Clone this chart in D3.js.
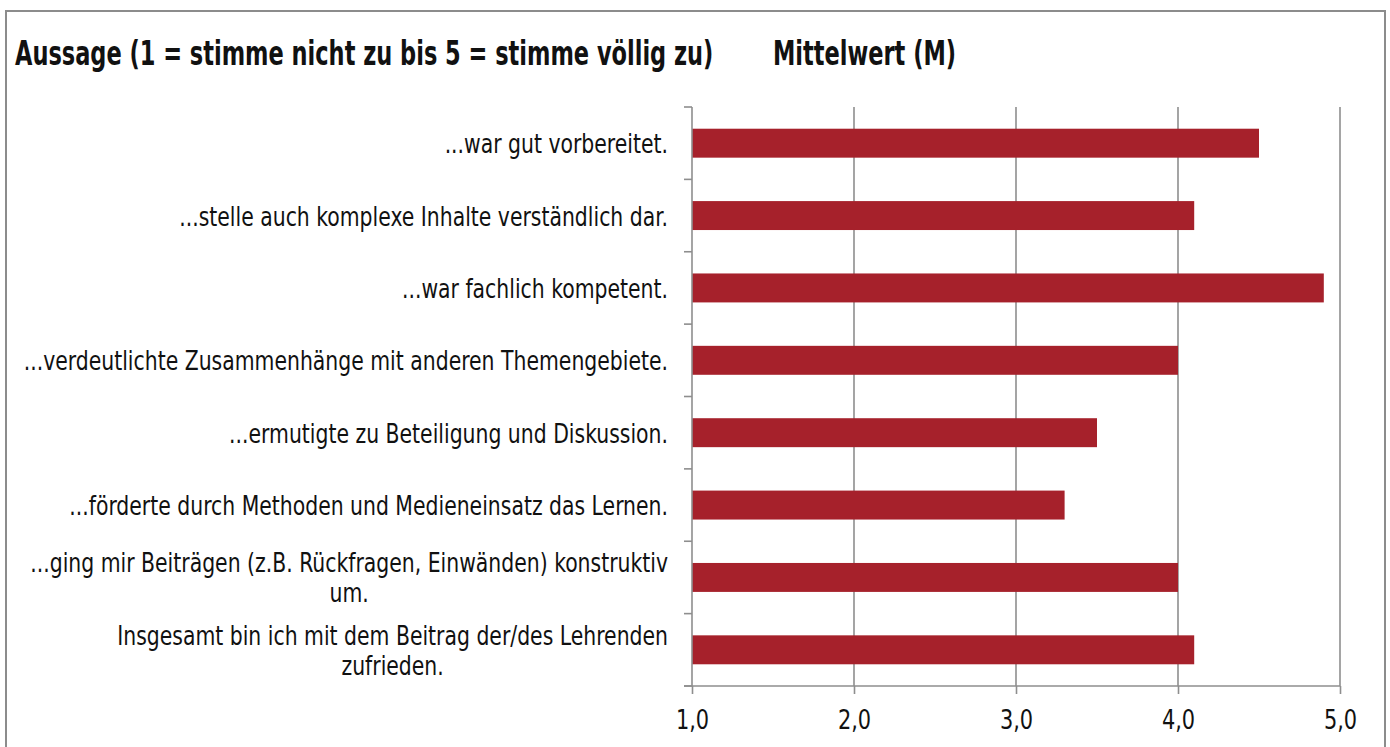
<!DOCTYPE html>
<html>
<head>
<meta charset="utf-8">
<script src="https://cdn.jsdelivr.net/npm/d3@7"></script>
<style>
  body { margin: 0; background: #fff; }
  text { font-family: "Liberation Sans Narrow", "DejaVu Sans Condensed", "Arial Narrow", sans-serif; fill: #111; }
</style>
</head>
<body>
<div id="chart"></div>
<script>
// data
const categories = [
  "...war gut vorbereitet.",
  "...stelle auch komplexe Inhalte verständlich dar.",
  "...war fachlich kompetent.",
  "...verdeutlichte Zusammenhänge mit anderen Themengebiete.",
  "...ermutigte zu Beteiligung und Diskussion.",
  "...förderte durch Methoden und Medieneinsatz das Lernen.",
  "...ging mir Beiträgen (z.B. Rückfragen, Einwänden) konstruktiv\num.",
  "Insgesamt bin ich mit dem Beitrag der/des Lehrenden\nzufrieden."
];
const values = [4.5, 4.1, 4.9, 4.0, 3.5, 3.3, 4.0, 4.1];
const tickValues = [1, 2, 3, 4, 5];
const tickLabels = ["1,0", "2,0", "3,0", "4,0", "5,0"];
const titleLeft = "Aussage (1 = stimme nicht zu bis 5 = stimme völlig zu)";
const titleRight = "Mittelwert (M)";

(function () {
  const width = 1390, height = 747;
  const plot = { left: 692, right: 1340, top: 107, bottom: 686 };
  const gridColor = "#8e8e8e";
  const barColor = "#a6212b";
  // the original font is a narrow gothic; squeeze the condensed fallback to match
  const titleSqueeze = 0.735, labelSqueeze = 0.84, tickSqueeze = 0.86;

  const svg = d3.select("#chart")
    .append("svg")
    .attr("width", width)
    .attr("height", height);

  // outer frame
  svg.append("rect")
    .attr("x", 6).attr("y", 11)
    .attr("width", 1379).attr("height", 760)
    .attr("fill", "none")
    .attr("stroke", "#8c8c8c")
    .attr("stroke-width", 2);

  // titles
  [[titleLeft, 15], [titleRight, 773]].forEach(([txt, tx]) => {
    svg.append("g")
      .attr("transform", `translate(${tx},65) scale(${titleSqueeze},1)`)
      .append("text")
      .style("font-size", "34px").style("font-weight", "bold")
      .text(txt);
  });

  const x = d3.scaleLinear()
    .domain([1, 5])
    .range([plot.left, plot.right]);

  const y = d3.scaleBand()
    .domain(categories)
    .range([plot.top, plot.bottom])
    .paddingInner(0.6)
    .paddingOuter(0.3);

  // vertical gridlines
  svg.append("g")
    .selectAll("line")
    .data(tickValues.slice(1))
    .join("line")
    .attr("x1", d => x(d)).attr("x2", d => x(d))
    .attr("y1", plot.top).attr("y2", plot.bottom)
    .attr("stroke", gridColor)
    .attr("stroke-width", 1.6);

  // bars
  svg.append("g")
    .selectAll("rect")
    .data(values)
    .join("rect")
    .attr("x", x(1))
    .attr("y", (d, i) => y(categories[i]))
    .attr("width", d => x(d) - x(1))
    .attr("height", y.bandwidth())
    .attr("fill", barColor);

  // category axis (ticks between categories)
  const bounds = categories.map(c => y(c) - y.step() * y.paddingOuter());
  bounds.push(plot.bottom);
  const yAxis = svg.append("g");
  yAxis.append("line")
    .attr("x1", plot.left).attr("x2", plot.left)
    .attr("y1", plot.top).attr("y2", plot.bottom)
    .attr("stroke", gridColor).attr("stroke-width", 1.6);
  yAxis.selectAll(".tick")
    .data(bounds)
    .join("line")
    .attr("class", "tick")
    .attr("x1", plot.left - 8).attr("x2", plot.left)
    .attr("y1", d => d).attr("y2", d => d)
    .attr("stroke", gridColor).attr("stroke-width", 1.6);

  // value axis
  const xAxis = svg.append("g")
    .attr("transform", `translate(0,${plot.bottom})`)
    .call(d3.axisBottom(x)
      .tickValues(tickValues)
      .tickFormat((d, i) => tickLabels[i])
      .tickSizeInner(8)
      .tickSizeOuter(0)
      .tickPadding(16));
  xAxis.select(".domain").attr("stroke", gridColor).attr("stroke-width", 1.6)
    .attr("d", `M${plot.left - 8},0H${plot.right}`);
  xAxis.selectAll(".tick line").attr("stroke", gridColor).attr("stroke-width", 1.6);
  xAxis.selectAll(".tick text")
    .style("font-size", "27px")
    .attr("fill", "#111")
    .attr("dy", "0.71em")
    .attr("transform", `scale(${tickSqueeze},1)`);

  // category labels, wrapped lines centred inside a right-aligned block
  const labelRight = 668, lineH = 30;
  const labels = svg.append("g")
    .attr("transform", `translate(${labelRight},0) scale(${labelSqueeze},1)`)
    .selectAll("text")
    .data(categories)
    .join("text")
    .style("font-size", "27px");
  labels.each(function (c) {
    const t = d3.select(this);
    const lines = c.split("\n");
    const cy = y(c) + y.bandwidth() / 2;
    const spans = lines.map((ln, i) => t.append("tspan")
      .attr("y", cy + 10 + (i - (lines.length - 1) / 2) * lineH)
      .text(ln));
    const maxW = d3.max(spans, s => s.node().getComputedTextLength());
    spans.forEach(s => s.attr("x", -maxW / 2).attr("text-anchor", "middle"));
  });
})();
</script>
</body>
</html>
